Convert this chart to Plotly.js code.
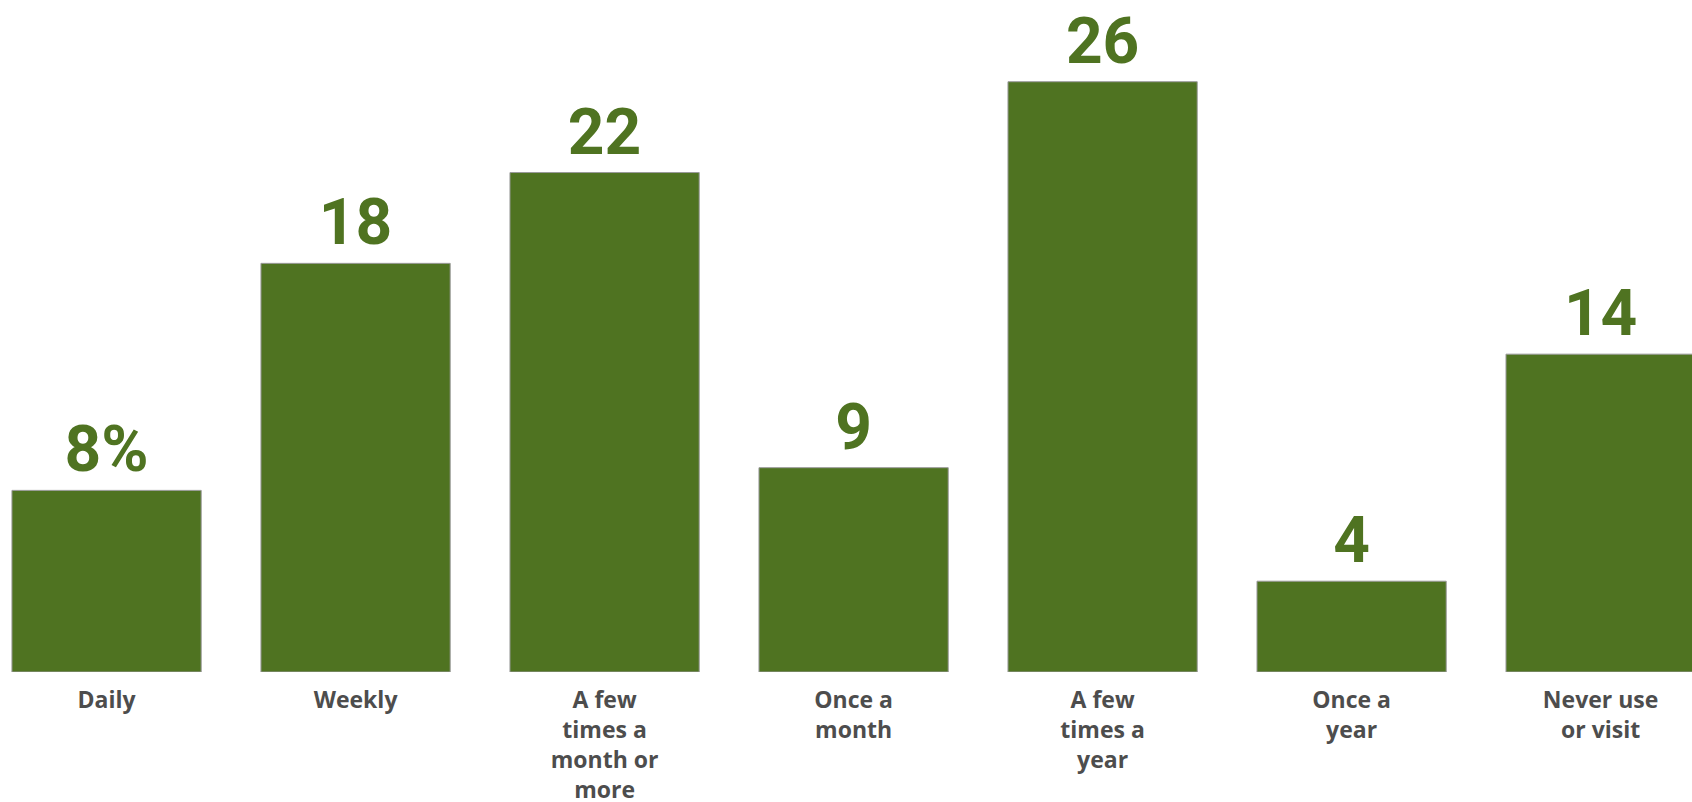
<!DOCTYPE html>
<html>
<head>
<meta charset="utf-8">
<script src="https://cdn.plot.ly/plotly-3.0.1.min.js"></script>
<style>html,body{margin:0;padding:0;background:#fff;}#chart{width:1692px;height:802px;}</style>
</head>
<body>
<div id="chart"></div>
<script>
var categories = ["Daily", "Weekly", "A few<br>times a<br>month or<br>more", "Once a<br>month", "A few<br>times a<br>year", "Once a<br>year", "Never use<br>or visit"];
var values = [8, 18, 22, 9, 26, 4, 14];
var valueLabels = values.map(function (v, i) { return i === 0 ? v + "%" : String(v); });

var green = "#4F7321";
var trace = {
  type: "bar",
  x: categories,
  y: values,
  text: valueLabels,
  textposition: "outside",
  cliponaxis: false,
  constraintext: "none",
  textfont: { family: "Roboto, sans-serif", size: 64, color: green, weight: 700 },
  marker: { color: green, line: { color: "#9a9a9a", width: 1 } },
  hoverinfo: "none"
};

var layout = {
  width: 1692,
  height: 802,
  margin: { l: 0, r: 0, t: 0, b: 130 },
  paper_bgcolor: "#ffffff",
  plot_bgcolor: "#ffffff",
  bargap: 0.24,
  showlegend: false,
  xaxis: {
    type: "category",
    range: [-0.428, 6.367],
    showgrid: false,
    zeroline: false,
    showline: false,
    ticks: "",
    ticklabelstandoff: 12,
    tickfont: { family: "'Open Sans', sans-serif", size: 23, color: "#4d4d4d", weight: 700 },
    automargin: false
  },
  yaxis: {
    range: [0, 29.6],
    visible: false,
    showgrid: false,
    zeroline: false
  }
};

Plotly.newPlot("chart", [trace], layout, { staticPlot: true, displayModeBar: false });
</script>
</body>
</html>
